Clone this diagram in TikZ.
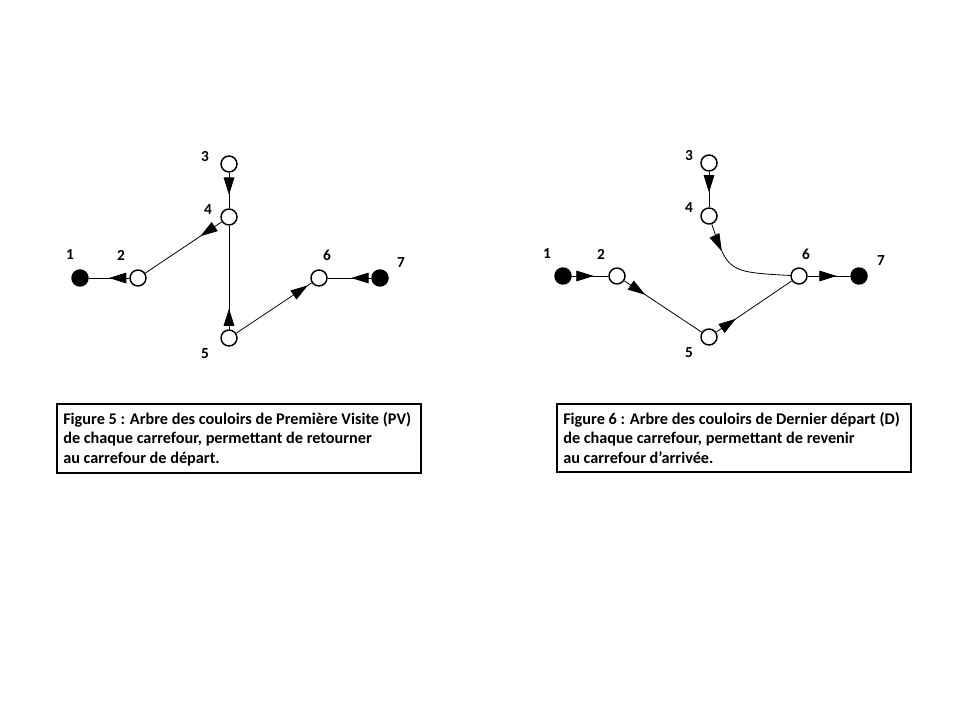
\documentclass[tikz,border=0pt]{standalone}
\usepackage{fontspec}
\setmainfont{Carlito}
\usetikzlibrary{arrows.meta,decorations.markings}

\tikzset{
  pt/.style={circle, draw, line width=1.1pt, fill=white, minimum size=12pt, inner sep=0pt},
  fpt/.style={pt, fill=black},
  lbl/.style={font=\fontsize{11.5}{13}\selectfont\bfseries},
  edge/.style={line width=0.6pt},
  tip/.style={postaction={decorate}, decoration={markings,
      mark=at position #1 with {\arrow{Triangle[length=13pt,width=8pt]}}}},
  caption/.style={anchor=west, align=left, inner sep=0pt,
      font=\fontsize{12.2}{14.6}\selectfont\bfseries},
  frame/.style={line width=0.8pt}
}

\begin{document}
\begin{tikzpicture}[x=0.75pt, y=-0.75pt]
    \useasboundingbox (0,0) rectangle (960,720);
    % Figure 5 : premiere visite
    \node[fpt] (a1) at (80,278) {};
    \node[pt] (a2) at (138,278) {};
    \node[pt] (a3) at (229,164) {};
    \node[pt] (a4) at (229,217) {};
    \node[pt] (a5) at (229,338) {};
    \node[pt] (a6) at (319,278) {};
    \node[fpt] (a7) at (380,278) {};
    \node[lbl] (la1) at (70,255) {1};
    \node[lbl] (la2) at (121,255) {2};
    \node[lbl] (la3) at (205,157) {3};
    \node[lbl] (la4) at (208,210) {4};
    \node[lbl] (la5) at (205,354) {5};
    \node[lbl] (la6) at (327,255) {6};
    \node[lbl] (la7) at (401,263) {7};
    \draw[edge, tip=0.5] (a2) -- (a1);
    \draw[edge, tip=0.62] (a3) -- (a4);
    \draw[edge, tip=0.28] (a4) -- (a2);
    \draw[edge, tip=0.2] (a5) -- (a4);
    \draw[edge, tip=0.95] (a5) -- (a6);
    \draw[edge, tip=0.46] (a7) -- (a6);
    \draw[frame] (57,404) rectangle (421,473);
    \node[caption] (cap5) at (63,439)
      {Figure 5 : Arbre des couloirs de Première Visite (PV)\\
       de chaque carrefour, permettant de retourner\\
       au carrefour de départ.};

    % Figure 6 : dernier depart
    \node[fpt] (b1) at (563,276) {};
    \node[pt] (b2) at (617,276) {};
    \node[pt] (b3) at (709,163) {};
    \node[pt] (b4) at (709,216) {};
    \node[pt] (b5) at (709,337) {};
    \node[pt] (b6) at (799,276) {};
    \node[fpt] (b7) at (859,276) {};
    \node[lbl] (lb1) at (547,254) {1};
    \node[lbl] (lb2) at (601,254) {2};
    \node[lbl] (lb3) at (689,156) {3};
    \node[lbl] (lb4) at (689,208) {4};
    \node[lbl] (lb5) at (689,353) {5};
    \node[lbl] (lb6) at (806,254) {6};
    \node[lbl] (lb7) at (881,261) {7};
    \draw[edge, tip=0.6] (b1) -- (b2);
    \draw[edge, tip=0.58] (b3) -- (b4);
    \draw[edge, tip=0.27] (b4) .. controls (728,272) .. (b6);
    \draw[edge, tip=0.27] (b2) -- (b5);
    \draw[edge, tip=0.26] (b5) -- (b6);
    \draw[edge, tip=0.68] (b6) -- (b7);
    \draw[frame] (557,404) rectangle (911,472);
    \node[caption] (cap6) at (563,438)
      {Figure 6 : Arbre des couloirs de Dernier départ (D)\\
       de chaque carrefour, permettant de revenir\\
       au carrefour d’arrivée.};
\end{tikzpicture}
\end{document}
